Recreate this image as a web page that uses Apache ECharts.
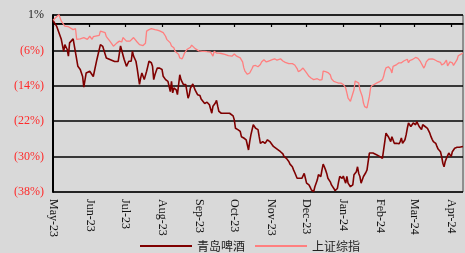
<!DOCTYPE html>
<html>
<head>
<meta charset="utf-8">
<script src="https://cdn.jsdelivr.net/npm/echarts@6/dist/echarts.min.js"></script>
<style>
html,body{margin:0;padding:0;background:#d9d9d9;}
#main{width:465px;height:253px;}
</style>
</head>
<body>
<div id="main"></div>
<script>
// 累计涨跌幅 (%), 日期 + 数值
var tsingtao = [['2023-05-01',0.8],['2023-05-04',-0.5],['2023-05-08',-3.5],['2023-05-10',-6.2],['2023-05-11',-4.7],['2023-05-13',-5.8],['2023-05-14',-7.3],['2023-05-15',-4.3],['2023-05-18',-3.4],['2023-05-20',-6.5],['2023-05-22',-9.6],['2023-05-24',-10.3],['2023-05-26',-11.9],['2023-05-27',-14.3],['2023-05-29',-11.1],
['2023-06-01',-10.7],['2023-06-04',-11.9],['2023-06-07',-8.1],['2023-06-10',-4.7],['2023-06-12',-5.1],['2023-06-15',-7.7],['2023-06-22',-8.5],['2023-06-25',-8.5],['2023-06-27',-5.0],['2023-06-28',-4.6],['2023-06-30',-8.0],
['2023-07-02',-9.6],['2023-07-04',-8.45],['2023-07-05',-8.1],['2023-07-06',-8.45],['2023-07-07',-6.2],['2023-07-08',-7.3],['2023-07-10',-8.45],['2023-07-11',-10.0],['2023-07-13',-13.7],['2023-07-14',-12.2],['2023-07-15',-11.1],['2023-07-16',-11.85],['2023-07-17',-12.6],['2023-07-19',-10.7],['2023-07-20',-9.6],['2023-07-21',-8.45],['2023-07-23',-8.8],['2023-07-24',-9.6],['2023-07-25',-12.6],['2023-07-26',-11.5],['2023-07-28',-10.0],['2023-07-29',-9.6],['2023-07-30',-10.0],
['2023-08-01',-10.3],['2023-08-02',-11.85],['2023-08-04',-12.6],['2023-08-05',-13.0],['2023-08-06',-13.0],['2023-08-08',-15.3],['2023-08-09',-13.0],['2023-08-10',-15.6],['2023-08-11',-14.5],['2023-08-13',-14.9],['2023-08-14',-16.0],['2023-08-15',-16.4],['2023-08-16',-11.5],['2023-08-17',-12.6],['2023-08-19',-13.7],['2023-08-21',-13.7],['2023-08-23',-16.8],['2023-08-24',-16.0],['2023-08-25',-14.5],['2023-08-27',-13.6],['2023-08-29',-15.0],['2023-08-31',-16.0],
['2023-09-02',-16.2],['2023-09-03',-17.0],['2023-09-04',-16.8],['2023-09-06',-18.0],['2023-09-07',-18.3],['2023-09-08',-17.7],['2023-09-10',-18.3],['2023-09-11',-18.6],['2023-09-12',-20.2],['2023-09-13',-18.6],['2023-09-15',-17.9],['2023-09-16',-17.3],['2023-09-17',-18.6],['2023-09-18',-19.8],['2023-09-20',-20.2],['2023-09-27',-20.2],['2023-09-30',-20.8],
['2023-10-01',-21.7],['2023-10-02',-23.6],['2023-10-04',-23.9],['2023-10-06',-24.3],['2023-10-07',-25.5],['2023-10-09',-25.8],['2023-10-11',-26.2],['2023-10-12',-26.6],['2023-10-13',-28.5],['2023-10-14',-26.6],['2023-10-15',-25.1],['2023-10-17',-22.8],['2023-10-18',-23.0],['2023-10-19',-23.6],['2023-10-21',-23.9],['2023-10-22',-25.5],['2023-10-23',-27.0],['2023-10-25',-26.6],['2023-10-27',-27.0],['2023-10-28',-26.6],['2023-10-29',-26.2],['2023-10-31',-26.6],
['2023-11-01',-27.0],['2023-11-03',-27.7],['2023-11-04',-27.6],['2023-11-05',-28.1],['2023-11-07',-28.5],['2023-11-09',-28.9],['2023-11-11',-29.4],['2023-11-12',-30.0],['2023-11-14',-30.4],['2023-11-16',-31.1],['2023-11-17',-31.7],['2023-11-19',-32.3],['2023-11-20',-33.0],['2023-11-21',-33.6],['2023-11-23',-34.9],['2023-11-24',-35.1],['2023-11-27',-34.9],['2023-11-28',-35.1],['2023-11-29',-33.8],['2023-11-30',-34.9],
['2023-12-01',-36.0],['2023-12-03',-36.4],['2023-12-04',-36.9],['2023-12-05',-37.5],['2023-12-07',-37.9],['2023-12-08',-36.8],['2023-12-10',-35.3],['2023-12-11',-34.1],['2023-12-12',-33.8],['2023-12-13',-34.5],['2023-12-14',-33.0],['2023-12-15',-31.7],['2023-12-16',-32.3],['2023-12-17',-33.0],['2023-12-18',-33.8],['2023-12-19',-34.9],['2023-12-21',-35.7],['2023-12-22',-36.4],['2023-12-24',-37.2],['2023-12-25',-37.7],['2023-12-27',-37.2],['2023-12-28',-35.7],['2023-12-29',-34.5],['2023-12-31',-34.9],
['2024-01-01',-34.4],['2024-01-02',-35.3],['2024-01-03',-36.0],['2024-01-04',-34.5],['2024-01-05',-36.0],['2024-01-06',-36.4],['2024-01-07',-36.8],['2024-01-08',-37.2],['2024-01-09',-36.4],['2024-01-10',-34.1],['2024-01-11',-33.8],['2024-01-12',-33.4],['2024-01-13',-32.3],['2024-01-14',-33.8],['2024-01-15',-34.5],['2024-01-16',-36.0],['2024-01-17',-36.4],['2024-01-18',-34.5],['2024-01-19',-34.1],['2024-01-20',-33.6],['2024-01-21',-33.0],['2024-01-22',-31.1],['2024-01-23',-29.2],['2024-01-24',-28.9],['2024-01-26',-29.2],['2024-01-29',-29.6],
['2024-02-01',-30.0],['2024-02-03',-30.4],['2024-02-04',-30.0],['2024-02-05',-26.6],['2024-02-06',-24.7],['2024-02-07',-24.3],['2024-02-08',-25.5],['2024-02-10',-26.6],['2024-02-11',-25.5],['2024-02-12',-25.8],['2024-02-13',-27.0],['2024-02-14',-27.3],['2024-02-15',-27.0],['2024-02-17',-27.1],['2024-02-18',-26.6],['2024-02-19',-25.8],['2024-02-20',-27.0],['2024-02-21',-27.3],['2024-02-22',-26.2],['2024-02-23',-25.1],['2024-02-24',-23.6],['2024-02-25',-22.4],['2024-02-26',-22.8],['2024-02-27',-23.2],['2024-02-28',-22.8],['2024-02-29',-22.4],
['2024-03-02',-22.8],['2024-03-03',-22.1],['2024-03-04',-21.7],['2024-03-05',-23.2],['2024-03-06',-23.6],['2024-03-07',-23.9],['2024-03-08',-22.8],['2024-03-09',-22.4],['2024-03-10',-23.2],['2024-03-11',-23.3],['2024-03-12',-23.6],['2024-03-13',-23.9],['2024-03-14',-24.7],['2024-03-15',-25.5],['2024-03-16',-26.1],['2024-03-17',-26.6],['2024-03-19',-27.0],['2024-03-20',-27.7],['2024-03-21',-28.3],['2024-03-23',-28.9],['2024-03-24',-30.0],['2024-03-25',-31.5],['2024-03-26',-32.3],['2024-03-27',-31.1],['2024-03-28',-30.4],['2024-03-29',-30.0],['2024-03-30',-29.2],['2024-03-31',-28.9],
['2024-04-01',-30.0],['2024-04-02',-28.9],['2024-04-03',-28.5],['2024-04-04',-28.1],['2024-04-06',-27.9],['2024-04-08',-27.9],['2024-04-09',-27.7],['2024-04-11',-27.7]];

var shIndex = [['2023-05-01',0.8],['2023-05-06',2.1],['2023-05-08',0.6],['2023-05-11',-0.5],['2023-05-14',-0.65],['2023-05-15',-1.1],['2023-05-18',-1.3],['2023-05-20',-1.1],['2023-05-21',-3.5],['2023-05-22',-3.9],['2023-05-24',-3.4],['2023-05-27',-3.1],['2023-05-30',-3.5],
['2023-06-01',-2.8],['2023-06-03',-3.5],['2023-06-04',-2.9],['2023-06-09',-2.6],['2023-06-10',-1.65],['2023-06-14',-2.0],['2023-06-15',-2.9],['2023-06-18',-3.9],['2023-06-21',-5.05],['2023-06-22',-5.4],['2023-06-24',-4.3],['2023-06-26',-3.9],['2023-06-28',-4.1],['2023-06-29',-3.1],
['2023-07-02',-3.9],['2023-07-05',-3.9],['2023-07-08',-3.1],['2023-07-11',-4.1],['2023-07-13',-4.7],['2023-07-16',-4.9],['2023-07-18',-4.4],['2023-07-19',-1.65],['2023-07-21',-1.3],['2023-07-23',-1.1],['2023-07-26',-1.3],['2023-07-28',-1.4],['2023-07-29',-1.1],['2023-07-30',-1.6],
['2023-08-02',-2.0],['2023-08-04',-2.8],['2023-08-05',-3.5],['2023-08-06',-3.9],['2023-08-08',-4.3],['2023-08-09',-5.0],['2023-08-11',-5.4],['2023-08-12',-6.2],['2023-08-13',-6.6],['2023-08-15',-6.9],['2023-08-16',-7.7],['2023-08-18',-7.9],['2023-08-19',-7.3],['2023-08-20',-6.6],['2023-08-22',-5.8],['2023-08-23',-6.2],['2023-08-25',-5.3],['2023-08-26',-4.8],['2023-08-27',-5.0],['2023-08-29',-5.6],['2023-08-30',-6.0],
['2023-09-01',-6.1],['2023-09-02',-5.8],['2023-09-04',-6.2],['2023-09-05',-6.0],['2023-09-06',-6.2],['2023-09-08',-6.3],['2023-09-09',-6.0],['2023-09-11',-6.4],['2023-09-12',-6.5],['2023-09-13',-7.3],['2023-09-14',-6.2],['2023-09-16',-6.6],['2023-09-18',-6.6],['2023-09-20',-6.7],['2023-09-23',-6.9],['2023-09-26',-7.2],['2023-09-29',-7.3],['2023-09-30',-7.7],
['2023-10-01',-6.8],['2023-10-03',-7.3],['2023-10-04',-7.5],['2023-10-06',-7.7],['2023-10-07',-7.9],['2023-10-08',-8.6],['2023-10-09',-9.9],['2023-10-10',-10.7],['2023-10-12',-11.4],['2023-10-13',-11.85],['2023-10-14',-11.1],['2023-10-16',-10.1],['2023-10-17',-9.5],['2023-10-19',-9.4],['2023-10-20',-9.4],['2023-10-21',-9.7],['2023-10-23',-9.2],['2023-10-24',-8.6],['2023-10-26',-8.1],['2023-10-27',-8.2],['2023-10-28',-8.6],['2023-10-30',-8.4],['2023-10-31',-8.3],
['2023-11-02',-8.1],['2023-11-03',-8.4],['2023-11-04',-7.9],['2023-11-06',-8.2],['2023-11-07',-8.1],['2023-11-09',-7.9],['2023-11-10',-8.3],['2023-11-11',-8.4],['2023-11-13',-8.7],['2023-11-14',-8.8],['2023-11-16',-9.0],['2023-11-17',-8.9],['2023-11-19',-9.0],['2023-11-20',-9.2],['2023-11-21',-9.3],['2023-11-23',-10.1],['2023-11-24',-10.8],['2023-11-26',-10.5],['2023-11-27',-10.3],['2023-11-28',-10.0],['2023-11-29',-10.1],
['2023-12-01',-11.1],['2023-12-03',-11.85],['2023-12-04',-12.2],['2023-12-05',-12.3],['2023-12-07',-12.6],['2023-12-08',-12.7],['2023-12-10',-12.4],['2023-12-11',-12.8],['2023-12-12',-12.7],['2023-12-14',-12.6],['2023-12-15',-10.7],['2023-12-17',-10.8],['2023-12-18',-11.0],['2023-12-19',-11.0],['2023-12-21',-11.5],['2023-12-22',-12.4],['2023-12-24',-13.0],['2023-12-26',-13.2],['2023-12-28',-13.4],['2023-12-30',-13.4],
['2024-01-01',-13.7],['2024-01-03',-14.5],['2024-01-04',-15.6],['2024-01-05',-16.8],['2024-01-07',-17.5],['2024-01-08',-17.1],['2024-01-10',-14.9],['2024-01-11',-12.9],['2024-01-12',-13.0],['2024-01-14',-13.4],['2024-01-15',-14.9],['2024-01-17',-16.4],['2024-01-18',-17.9],['2024-01-19',-18.7],['2024-01-21',-19.0],['2024-01-22',-18.7],['2024-01-23',-16.4],['2024-01-24',-14.5],['2024-01-25',-14.0],['2024-01-27',-13.7],['2024-01-29',-13.4],
['2024-02-01',-13.0],['2024-02-03',-12.6],['2024-02-04',-11.85],['2024-02-05',-10.7],['2024-02-06',-9.96],['2024-02-07',-10.2],['2024-02-08',-9.7],['2024-02-10',-10.3],['2024-02-11',-11.1],['2024-02-12',-9.6],['2024-02-13',-9.2],['2024-02-15',-9.2],['2024-02-17',-8.8],['2024-02-18',-8.4],['2024-02-19',-8.8],['2024-02-21',-8.4],['2024-02-22',-8.2],['2024-02-24',-8.0],['2024-02-25',-8.8],['2024-02-26',-8.3],['2024-02-28',-8.1],['2024-02-29',-7.9],
['2024-03-02',-7.6],['2024-03-03',-7.9],['2024-03-04',-7.8],['2024-03-06',-8.5],['2024-03-07',-8.8],['2024-03-09',-10.0],['2024-03-10',-9.4],['2024-03-11',-8.6],['2024-03-13',-8.0],['2024-03-14',-7.7],['2024-03-16',-7.9],['2024-03-17',-7.7],['2024-03-18',-8.1],['2024-03-20',-8.4],['2024-03-21',-8.8],['2024-03-23',-8.7],['2024-03-24',-9.3],['2024-03-26',-9.0],['2024-03-27',-8.7],['2024-03-28',-8.2],['2024-03-29',-9.5],['2024-03-31',-8.6],
['2024-04-02',-8.8],['2024-04-03',-9.4],['2024-04-04',-9.2],['2024-04-06',-8.1],['2024-04-07',-7.2],['2024-04-09',-6.9],['2024-04-11',-6.6]];

var seriesNames = ['青岛啤酒', '上证综指'];
var yTickLabels = {'-38':'(38%)', '-30':'(30%)', '-22':'(22%)', '-14':'(14%)', '-6':'(6%)', '2':'1%'};
var monthNames = ['Jan','Feb','Mar','Apr','May','Jun','Jul','Aug','Sep','Oct','Nov','Dec'];
var startDate = '2023-05-01', endDate = '2024-04-11';
var baseline = [[startDate, 0], [endDate, 0]];   // 0% 基准线

var myChart = echarts.init(document.getElementById('main'));
var serif = 'Liberation Serif';
var option = {
    backgroundColor: '#d9d9d9',
    grid: {left: 53, right: 2, top: 15, bottom: 61, show: true, borderColor: '#444', borderWidth: 1},
    legend: {
        data: seriesNames,
        left: 140, top: 240, padding: 0,
        icon: 'rect',
        itemWidth: 52, itemHeight: 2, itemGap: 10,
        textStyle: {fontFamily: 'Noto Sans CJK SC', fontSize: 12, color: '#222'}
    },
    xAxis: [
        {   // 0% 处的月度刻度 (top 往下偏移到 0 的位置)
            type: 'time', min: startDate, max: endDate,
            position: 'top', offset: -9,
            axisLine: {show: true, onZero: false, lineStyle: {color: '#000', width: 1.5}},
            axisTick: {show: true, inside: true, length: 3, lineStyle: {color: '#000', width: 1.2}},
            axisLabel: {show: true, formatter: function(){ return ''; }},
            splitLine: {show: false}
        },
        {   // 底部日期标签
            type: 'time', min: startDate, max: endDate, position: 'bottom',
            axisLine: {show: false, onZero: false},
            axisTick: {show: false},
            splitLine: {show: false},
            axisLabel: {
                rotate: -90, margin: 7, fontFamily: serif, fontSize: 12, color: '#111',
                showMaxLabel: false,
                formatter: function(val){
                    var d = new Date(val);
                    if (d.getDate() !== 1) return '';
                    return monthNames[d.getMonth()] + '-' + String(d.getFullYear()).slice(2);
                }
            }
        }
    ],
    yAxis: {
        type: 'value', min: -38, max: 2, interval: 8,
        axisLine: {show: true, lineStyle: {color: '#000', width: 2}},
        axisTick: {show: false},
        splitLine: {lineStyle: {color: '#000', width: 1.5}},
        axisLabel: {
            margin: 9, fontFamily: serif, fontSize: 12,
            color: function(v){ return v == 2 ? '#222' : '#ff2a2a'; },
            formatter: function(v){ return yTickLabels[String(v)] || ''; }
        }
    },
    series: [
        {
            name: 'baseline', type: 'line', xAxisIndex: 0, data: baseline,
            symbol: 'none', silent: true, lineStyle: {color: '#000', width: 1.5}
        },
        {
            name: seriesNames[0], type: 'line', xAxisIndex: 0, data: tsingtao,
            symbol: 'none', lineStyle: {color: '#7f0000', width: 1.6}, itemStyle: {color: '#7f0000'}
        },
        {
            name: seriesNames[1], type: 'line', xAxisIndex: 0, data: shIndex,
            symbol: 'none', lineStyle: {color: '#ff7f7f', width: 1.3}, itemStyle: {color: '#ff7f7f'}
        }
    ]
};
myChart.setOption(option);
</script>
</body>
</html>
